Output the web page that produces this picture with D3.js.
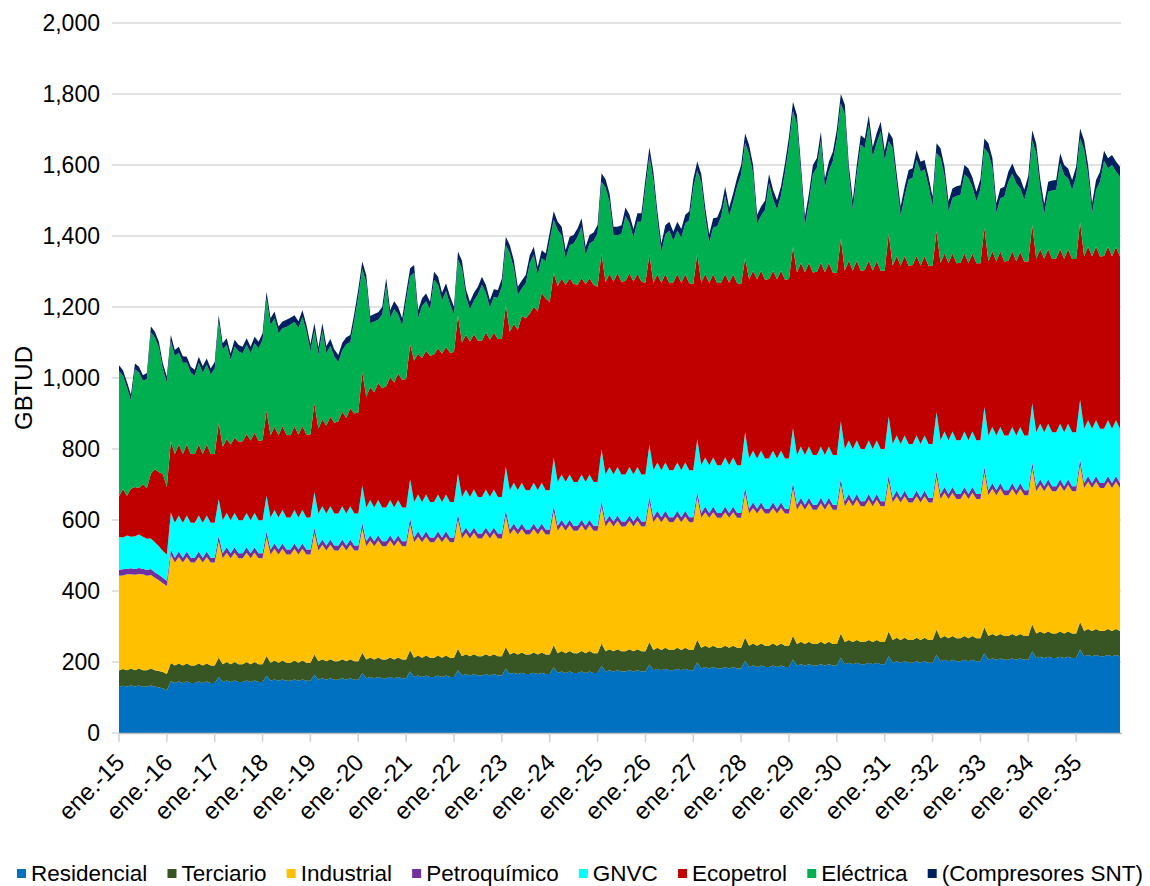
<!DOCTYPE html>
<html>
<head>
<meta charset="utf-8">
<script src="https://cdn.jsdelivr.net/npm/d3@7"></script>
<style>
  body { margin: 0; background: #fff; }
  svg { display: block; }
  text { font-family: "Liberation Sans", Arial, sans-serif; fill: #000; }
</style>
</head>
<body>
<svg id="chart" width="1150" height="886"></svg>
<script>
//////////////// DATA (GBTUD, monthly ene.-15 .. dic.-35, one row per year) ////////////////

var residencial = [
  130,133,131,134,131,134,130,131,134,131,128,126,
  120,146,141,145,141,145,141,141,145,141,145,141,
  141,158,144,148,144,148,144,144,148,144,148,144,
  144,161,147,151,147,151,147,147,151,147,151,147,
  147,164,150,154,150,154,150,150,154,150,154,150,
  150,168,154,158,154,158,154,154,158,154,158,154,
  154,173,158,162,158,162,158,158,162,158,162,158,
  158,177,162,166,162,166,162,162,166,162,166,162,
  162,181,166,170,166,170,166,166,170,166,170,166,
  166,185,169,173,169,173,169,169,173,169,173,169,
  169,189,173,177,173,177,173,173,177,173,177,173,
  173,193,177,181,177,181,177,177,181,177,181,177,
  177,199,182,186,182,186,182,182,186,182,186,182,
  182,203,186,190,186,190,186,186,190,186,190,186,
  186,207,190,194,190,194,190,190,194,190,194,190,
  190,212,194,198,194,198,194,194,198,194,198,194,
  194,216,198,202,198,202,198,198,202,198,202,198,
  198,220,202,206,202,206,202,202,206,202,206,202,
  202,225,206,210,206,210,206,206,210,206,210,206,
  206,230,211,215,211,215,211,211,215,211,215,211,
  211,235,216,220,216,220,216,216,220,216,220,216
];

var terciario = [
  46,47,46,48,46,48,47,46,48,46,47,46,
  46,51,49,51,49,51,49,49,51,49,51,49,
  49,55,50,52,50,52,50,50,52,50,52,50,
  50,56,51,53,51,53,51,51,53,51,53,51,
  51,57,52,54,52,54,52,52,54,52,54,52,
  52,58,53,55,53,55,53,53,55,53,55,53,
  53,60,54,56,54,56,54,54,56,54,56,54,
  54,60,54,56,54,56,54,54,56,54,56,54,
  54,61,55,57,55,57,55,55,57,55,57,55,
  55,62,56,58,56,58,56,56,58,56,58,56,
  56,63,57,59,57,59,57,57,59,57,59,57,
  57,63,57,59,57,59,57,57,59,57,59,57,
  57,64,58,60,58,60,58,58,60,58,60,58,
  58,66,60,62,60,62,60,60,62,60,62,60,
  60,67,61,63,61,63,61,61,63,61,63,61,
  61,68,62,64,62,64,62,62,64,62,64,62,
  62,70,64,66,64,66,64,64,66,64,66,64,
  64,71,65,67,65,67,65,65,67,65,67,65,
  65,73,67,69,67,69,67,67,69,67,69,67,
  67,76,69,71,69,71,69,69,71,69,71,69,
  69,78,71,73,71,73,71,71,73,71,73,71
];

var industrial = [
  267,264,270,265,269,266,270,266,263,260,255,250,
  248,305,290,300,290,300,290,290,300,290,300,290,
  290,327,298,308,298,308,298,298,308,298,308,298,
  298,335,305,315,305,315,305,305,315,305,315,305,
  305,342,312,322,312,322,312,312,322,312,322,312,
  312,350,319,329,319,329,319,319,329,319,329,319,
  319,356,325,335,325,335,325,325,335,325,335,325,
  325,364,332,342,332,342,332,332,342,332,342,332,
  332,370,338,348,338,348,338,338,348,338,348,338,
  338,378,345,355,345,355,345,345,355,345,355,345,
  345,386,352,362,352,362,352,352,362,352,362,352,
  352,394,360,370,360,370,360,360,370,360,370,360,
  360,401,366,376,366,376,366,366,376,366,376,366,
  366,407,372,382,372,382,372,372,382,372,382,372,
  372,415,378,390,378,390,378,378,390,378,390,378,
  378,420,383,395,383,395,383,383,395,383,395,383,
  383,424,387,399,387,399,387,387,399,387,399,387,
  387,430,392,404,392,404,392,392,404,392,404,392,
  392,435,397,409,397,409,397,397,409,397,409,397,
  397,440,401,413,401,413,401,401,413,401,413,401,
  401,442,403,415,403,415,403,403,415,403,415,403
];

var petroquimico = [
  17,17,16,17,16,17,16,16,17,16,16,15,
  15,15,14,15,14,15,14,14,15,14,15,14,
  14,16,14,15,14,15,14,14,15,14,15,14,
  14,16,14,15,14,15,14,14,15,14,15,14,
  14,16,14,15,14,15,14,14,15,14,15,14,
  14,16,14,15,14,15,14,14,15,14,15,14,
  14,16,14,15,14,15,14,14,15,14,15,14,
  14,16,14,15,14,15,14,14,15,14,15,14,
  14,16,14,15,14,15,14,14,15,14,15,14,
  14,16,14,15,14,15,14,14,15,14,15,14,
  14,16,14,15,14,15,14,14,15,14,15,14,
  14,17,14,16,14,16,14,14,16,14,16,14,
  14,17,14,16,14,16,14,14,16,14,16,14,
  14,17,14,16,14,16,14,14,16,14,16,14,
  14,17,14,16,14,16,14,14,16,14,16,14,
  14,17,14,16,14,16,14,14,16,14,16,14,
  14,17,14,16,14,16,14,14,16,14,16,14,
  14,17,14,16,14,16,14,14,16,14,16,14,
  14,17,14,16,14,16,14,14,16,14,16,14,
  14,17,14,16,14,16,14,14,16,14,16,14,
  14,17,14,16,14,16,14,14,16,14,16,14
];

var gnvc = [
  92,90,93,89,92,94,90,88,86,84,80,76,
  74,104,98,102,98,102,98,98,102,98,102,98,
  98,103,93,97,93,97,93,93,97,93,97,93,
  93,100,90,94,90,94,90,90,94,90,94,90,
  90,100,90,94,90,94,90,90,94,90,94,90,
  90,105,95,99,95,99,95,95,99,95,99,95,
  95,110,100,104,100,104,100,100,104,100,104,100,
  100,114,103,107,103,107,103,103,107,103,107,103,
  103,122,111,115,111,115,111,111,115,111,115,111,
  111,135,123,127,123,127,123,123,127,123,127,123,
  123,145,132,136,132,136,132,132,136,132,136,132,
  132,145,132,136,132,136,132,132,136,132,136,132,
  132,147,134,138,134,138,134,134,138,134,138,134,
  134,154,141,145,141,145,141,141,145,141,145,141,
  141,153,140,144,140,144,140,140,144,140,144,140,
  140,161,147,151,147,151,147,147,151,147,151,147,
  147,165,151,155,151,155,151,151,155,151,155,151,
  151,166,152,156,152,156,152,152,156,152,156,152,
  152,168,154,158,154,158,154,154,158,154,158,154,
  154,166,152,156,152,156,152,152,156,152,156,152,
  152,167,153,157,153,157,153,153,157,153,157,153
];

var ecopetrol = [
  114,136,112,135,139,131,148,143,182,206,209,216,
  190,200,194,200,194,200,194,194,200,194,200,194,
  194,215,207,208,214,212,222,222,222,225,226,224,
  226,240,232,235,232,236,233,232,236,233,236,234,
  234,250,240,244,248,252,256,260,266,270,276,282,
  285,320,312,318,325,330,336,342,346,352,356,360,
  362,380,398,396,405,405,412,415,412,418,415,420,
  422,445,435,436,438,437,440,440,442,443,442,445,
  445,455,446,447,452,470,484,498,495,505,535,540,
  530,520,552,552,556,553,558,556,553,558,553,556,
  550,552,542,545,544,546,543,545,546,544,545,543,
  540,536,528,530,528,531,527,529,531,528,530,527,
  525,522,514,517,514,517,513,515,517,514,516,513,
  510,490,505,507,505,507,504,506,507,505,507,504,
  506,510,514,518,515,517,514,516,518,515,517,514,
  513,514,503,506,503,506,502,504,506,503,505,502,
  502,515,503,506,503,506,502,504,506,503,505,502,
  502,510,499,502,499,502,498,500,502,499,501,498,
  498,505,491,494,491,494,490,492,494,491,493,490,
  490,503,489,492,489,492,488,490,492,489,491,488,
  488,500,486,489,486,489,485,487,489,486,488,485
];

var electrica = [
  354,319,305,248,332,326,291,307,399,371,351,296,
  294,283,276,258,257,230,229,220,230,229,225,224,
  241,285,274,266,238,257,254,249,252,246,252,261,
  282,316,310,305,287,276,304,312,294,301,308,290,
  234,205,207,251,204,199,186,167,173,207,186,262,
  326,290,322,180,199,178,208,283,168,207,167,152,
  221,192,247,101,147,139,130,211,179,149,158,137,
  106,158,208,106,90,95,130,158,112,90,100,116,
  147,170,221,157,98,77,99,141,147,101,97,104,
  172,150,157,122,73,93,114,135,145,81,98,123,
  150,202,266,202,130,107,135,183,141,124,146,169,
  267,277,287,153,86,112,148,118,122,127,143,178,
  270,235,282,162,112,132,160,186,221,187,203,273,
  310,326,352,272,156,155,197,270,202,197,212,302,
  375,383,417,249,130,170,277,295,343,238,259,314,
  377,381,440,243,171,243,355,344,383,320,334,393,
  311,260,331,205,139,168,243,246,271,265,244,224,
  168,220,296,217,146,156,190,191,222,239,188,175,
  209,224,304,236,135,150,183,223,220,219,179,174,
  214,238,296,169,126,162,193,193,242,236,200,195,
  232,236,299,202,121,160,211,268,221,257,213,225
];

var compresores = [
  16,16,16,17,16,16,16,17,16,16,16,16,
  17,17,17,17,18,17,17,17,17,18,17,17,
  18,18,18,18,18,19,18,18,18,18,18,18,
  19,19,19,19,19,19,20,19,19,19,19,19,
  20,20,20,20,20,20,20,20,21,20,20,20,
  21,21,21,21,21,21,21,21,21,22,21,21,
  22,22,22,22,22,22,22,22,22,22,22,22,
  22,22,22,22,22,22,22,22,22,22,22,22,
  23,23,23,23,23,23,23,23,23,23,23,23,
  24,24,24,24,24,24,24,24,24,24,24,24,
  24,24,24,24,24,24,24,24,24,24,24,24,
  25,25,25,25,25,25,25,25,25,25,25,25,
  25,25,25,25,25,25,25,25,25,25,25,25,
  26,26,26,26,26,26,26,26,26,26,26,26,
  26,26,26,26,26,26,26,26,26,26,26,26,
  27,27,27,27,27,27,27,27,27,27,27,27,
  27,27,27,27,27,27,27,27,27,27,27,27,
  27,27,27,27,27,27,27,27,27,27,27,27,
  28,28,28,28,28,28,28,28,28,28,28,28,
  28,28,28,28,28,28,28,28,28,28,28,28,
  28,28,28,28,28,28,28,28,28,28,28,28
];

var seriesNames = ["Residencial", "Terciario", "Industrial", "Petroquímico", "GNVC", "Ecopetrol", "Eléctrica", "(Compresores SNT)"];
var seriesValues = [residencial, terciario, industrial, petroquimico, gnvc, ecopetrol, electrica, compresores];
var seriesColors = ["#0070C0", "#375623", "#FFC000", "#7030A0", "#00FFFF", "#C00000", "#00B050", "#002060"];

var yTicks = [0, 200, 400, 600, 800, 1000, 1200, 1400, 1600, 1800, 2000];
var xLabels = ["ene.-15","ene.-16","ene.-17","ene.-18","ene.-19","ene.-20","ene.-21","ene.-22","ene.-23","ene.-24","ene.-25",
               "ene.-26","ene.-27","ene.-28","ene.-29","ene.-30","ene.-31","ene.-32","ene.-33","ene.-34","ene.-35"];

//////////////// CHART ////////////////

var margin = {left: 119, right: 30, top: 23, bottom: 153},
    W = 1150, H = 886;

var svg = d3.select("#chart");
var nMonths = residencial.length;

var x = d3.scaleLinear().domain([0, nMonths - 1]).range([margin.left, W - margin.right]);
var y = d3.scaleLinear().domain([0, 2000]).range([H - margin.bottom, margin.top]);

// table for the stack
var rows = d3.range(nMonths).map(function(i) {
    var r = {i: i};
    seriesNames.forEach(function(n, k) { r[n] = seriesValues[k][i]; });
    return r;
});
var stacked = d3.stack().keys(seriesNames)(rows);

// gridlines
svg.append("g").selectAll("line")
    .data(yTicks)
    .enter().append("line")
    .attr("x1", margin.left - 7)
    .attr("x2", x(nMonths - 1) + 1)
    .attr("y1", function(d) { return y(d); })
    .attr("y2", function(d) { return y(d); })
    .attr("stroke", "#d9d9d9")
    .attr("stroke-width", 1.5);

// areas
var area = d3.area()
    .x(function(d, i) { return x(i); })
    .y0(function(d) { return y(d[0]); })
    .y1(function(d) { return y(d[1]); });

svg.append("g").selectAll("path")
    .data(stacked)
    .enter().append("path")
    .attr("d", area)
    .attr("fill", function(d, k) { return seriesColors[k]; });

// x axis line and ticks
var xAxisG = svg.append("g");
xAxisG.append("line")
    .attr("x1", margin.left).attr("x2", x(nMonths - 1) + 2)
    .attr("y1", y(0) + 0.5).attr("y2", y(0) + 0.5)
    .attr("stroke", "#bfbfbf").attr("stroke-width", 1.5);

var tickIdx = xLabels.map(function(d, k) { return k * 12; });
xAxisG.selectAll(".tick")
    .data(tickIdx)
    .enter().append("line")
    .attr("x1", function(d) { return x(d); })
    .attr("x2", function(d) { return x(d); })
    .attr("y1", y(0)).attr("y2", y(0) + 9)
    .attr("stroke", "#d0d0d0").attr("stroke-width", 1.5);

xAxisG.selectAll("text")
    .data(tickIdx)
    .enter().append("text")
    .attr("transform", function(d) { return "translate(" + (x(d) + 7) + "," + (y(0) + 31) + ") rotate(-45)"; })
    .attr("text-anchor", "end")
    .style("font-size", "24px")
    .text(function(d, k) { return xLabels[k]; });

// y labels
svg.append("g").selectAll("text")
    .data(yTicks)
    .enter().append("text")
    .attr("x", 100)
    .attr("y", function(d) { return y(d) + 8; })
    .attr("text-anchor", "end")
    .style("font-size", "23px")
    .text(function(d) { return d3.format(",")(d); });

// y title
svg.append("text")
    .attr("transform", "translate(32,388) rotate(-90)")
    .attr("text-anchor", "middle")
    .style("font-size", "24px")
    .text("GBTUD");

// legend - spread items between x=17 and x=1143
var legend = svg.append("g");
var legStart = 17, legEnd = 1143, sq = 9, sqGap = 5;
var items = seriesNames.map(function(n, k) {
    var g = legend.append("g");
    g.append("rect")
        .attr("y", 869)
        .attr("width", sq).attr("height", sq)
        .attr("fill", seriesColors[k]);
    var t = g.append("text")
        .attr("x", sq + sqGap).attr("y", 881)
        .style("font-size", "22.5px")
        .text(n);
    return {g: g, w: sq + sqGap + t.node().getComputedTextLength()};
});
var totalW = d3.sum(items, function(d) { return d.w; });
var gap = (legEnd - legStart - totalW) / (items.length - 1);
var lx = legStart;
items.forEach(function(it) {
    it.g.attr("transform", "translate(" + lx + ",0)");
    lx += it.w + gap;
});
</script>
</body>
</html>
